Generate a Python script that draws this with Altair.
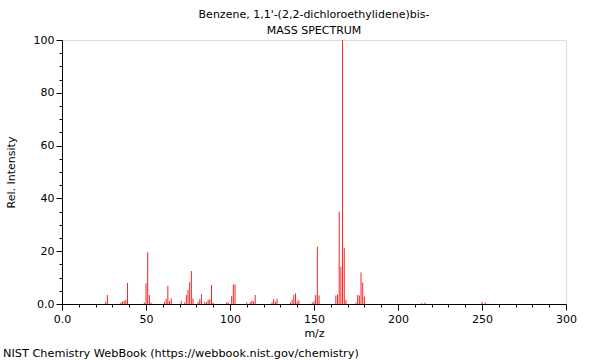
import altair as alt
import pandas as pd

mz = [26, 27, 35, 36, 37, 38, 39, 49, 50, 51, 52, 53,
      61, 62, 63, 64, 65, 71, 73, 74, 75, 76, 77, 78, 81,
      82, 83, 85, 86, 87, 88, 89, 90, 98, 99, 101, 102, 103,
      110, 112, 113, 114, 115, 125, 126, 127, 128, 136, 137, 138, 139, 140, 141,
      149, 150, 151, 152, 153, 163, 164, 165, 166, 167, 168, 169,
      175, 176, 177, 178, 179, 180, 214, 216, 250, 252]
intensity = [0.8, 3.4, 0.5, 1.0, 1.2, 1.5, 8.0, 0.5, 7.8, 19.6, 3.4, 0.5,
             0.8, 1.9, 6.9, 1.1, 2.1, 1.1, 0.6, 3.4, 5.3, 8.3, 12.5, 2.1, 0.8,
             1.8, 3.8, 0.9, 0.7, 1.5, 1.8, 7.2, 0.5, 0.6, 0.6, 3.0, 7.4, 7.4,
             0.6, 0.6, 1.2, 1.0, 3.4, 0.6, 1.8, 0.9, 2.0, 0.5, 1.5, 3.4, 4.0, 0.9, 1.5,
             0.5, 1.1, 3.4, 21.7, 3.2, 3.2, 3.6, 35.0, 14.1, 100.0, 21.3, 1.5,
             0.5, 3.4, 3.2, 12.0, 8.1, 2.8, 0.3, 0.5, 0.8, 0.5]

title_lines = ["Benzene, 1,1'-(2,2-dichloroethylidene)bis-", "MASS SPECTRUM"]
footer_text = ["NIST Chemistry WebBook (https://webbook.nist.gov/chemistry)"]
x_ticks = list(range(0, 301, 10))
y_ticks = list(range(0, 101, 5))

df = pd.DataFrame({"mz": mz, "intensity": intensity})
FONT = "DejaVu Sans"

x_axis = alt.Axis(
    values=x_ticks, title="m/z", grid=False,
    labelExpr="datum.value % 50 === 0 ? (datum.value === 0 ? '0.0' : datum.label) : ''",
    tickSize={"condition": {"test": "datum.value % 50 === 0", "value": 6}, "value": 3},
    labelOverlap=False, labelFont=FONT, labelFontSize=11, labelColor="black",
    titleFont=FONT, titleFontSize=11, titleFontWeight="normal", titleColor="black",
    titlePadding=3, labelPadding=3, domainColor="black", tickColor="black",
    labelFlush=False,
)
y_axis = alt.Axis(
    values=y_ticks, title="Rel. Intensity", grid=False,
    labelExpr="datum.value % 20 === 0 ? (datum.value === 0 ? '0.0' : datum.label) : ''",
    tickSize={"condition": {"test": "datum.value % 20 === 0", "value": 6}, "value": 3},
    labelOverlap=False, labelFont=FONT, labelFontSize=11, labelColor="black",
    titleFont=FONT, titleFontSize=11, titleFontWeight="normal", titleColor="black",
    titlePadding=17, labelPadding=2, domainColor="black", tickColor="black",
    labelFlush=False,
)

bars = alt.Chart(df).mark_rule(color="#ff2020", strokeWidth=1).encode(
    x=alt.X("mz:Q", scale=alt.Scale(domain=[0, 300], nice=False), axis=x_axis),
    y=alt.Y("intensity:Q", scale=alt.Scale(domain=[0, 100], nice=False), axis=y_axis),
    y2=alt.datum(0),
)

footer = alt.Chart(pd.DataFrame({"t": footer_text})).mark_text(
    align="left", baseline="middle", font=FONT, fontSize=11.3, color="black"
).encode(text="t:N", x=alt.value(-59), y=alt.value(314))

chart = (bars + footer).properties(
    width=504, height=264,
    title=alt.TitleParams(text=title_lines, font=FONT, fontSize=11, fontWeight="normal",
                          color="black", anchor="middle", offset=-2, lineHeight=16),
    autosize=alt.AutoSizeParams(type="none"),
    padding={"left": 62, "top": 40, "right": 34, "bottom": 56},
).configure_view(stroke="black", strokeWidth=1).configure(background="white")

chart.save("out.html", embed_options={"renderer": "svg", "actions": False})
